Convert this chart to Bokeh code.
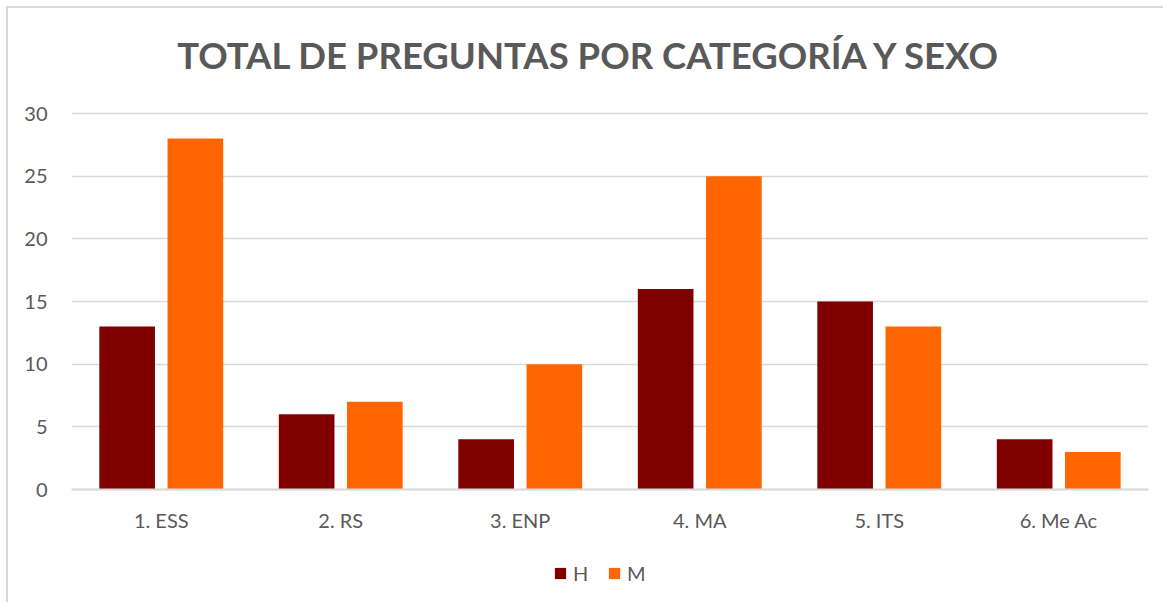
from bokeh.plotting import figure
from bokeh.models import (FactorRange, Range1d, Label, Legend, LegendItem,
                          FixedTicker, ColumnDataSource)
from bokeh.transform import dodge
from bokeh.embed import file_html
from bokeh.resources import INLINE

# ---- data ----
categories = ["1. ESS", "2. RS", "3. ENP", "4. MA", "5. ITS", "6. Me Ac"]
h_values = [13, 6, 4, 16, 15, 4]
m_values = [28, 7, 10, 25, 13, 3]
y_ticks = [0, 5, 10, 15, 20, 25, 30]
title_text = "TOTAL DE PREGUNTAS POR CATEGORÍA Y SEXO"

source = ColumnDataSource(data=dict(cat=categories, H=h_values, M=m_values))

FONT = "Lato"
GRAY = "#595959"
GRID = "#d9d9d9"

# frame spans the full canvas height; 0..30 sits at canvas px 481..105
PX_PER_UNIT = (481 - 105) / 30.0
Y_TOP = 30 + 105 / PX_PER_UNIT
Y_BOTTOM = -(596 - 481) / PX_PER_UNIT

p = figure(
    x_range=FactorRange(*categories, range_padding=0),
    y_range=Range1d(Y_BOTTOM, Y_TOP),
    width=1157, height=596,
    output_backend="svg", toolbar_location=None,
    min_border_left=63, min_border_right=17,
    min_border_top=0, min_border_bottom=0,
)
p.outline_line_color = None
p.styles = {"border-left": "2px solid #d9d9d9", "border-top": "2px solid #d9d9d9",
            "margin-left": "6px", "margin-top": "6px"}

r_h = p.vbar(x=dodge("cat", -0.19, range=p.x_range), top="H", width=0.31,
             source=source, fill_color="#800000", line_color=None)
r_m = p.vbar(x=dodge("cat", 0.19, range=p.x_range), top="M", width=0.31,
             source=source, fill_color="#FF6600", line_color=None)

# axes
p.xgrid.visible = False
p.ygrid.grid_line_color = GRID
p.ygrid.grid_line_width = 1.5

p.yaxis.ticker = FixedTicker(ticks=y_ticks)
p.yaxis.axis_line_color = None
p.yaxis.major_tick_line_color = None
p.yaxis.minor_tick_line_color = None
p.yaxis.major_label_text_font = FONT
p.yaxis.major_label_text_font_size = "20px"
p.yaxis.major_label_text_color = GRAY
p.yaxis.major_label_standoff = 18

p.xaxis.fixed_location = 0
p.xaxis.axis_line_color = GRID
p.xaxis.axis_line_width = 2
p.xaxis.major_tick_line_color = None
p.xaxis.minor_tick_line_color = None
p.xaxis.major_label_text_font = FONT
p.xaxis.major_label_text_font_size = "20px"
p.xaxis.major_label_text_color = GRAY
p.xaxis.major_label_standoff = 12

# title
p.add_layout(Label(x=2.89, y=30 + (105 - 46) / PX_PER_UNIT, text=title_text,
                   text_align="center", text_baseline="middle", text_font=FONT,
                   text_font_size="36.5px", text_font_style="bold",
                   text_color=GRAY))

legend = Legend(items=[LegendItem(label="H", renderers=[r_h]),
                       LegendItem(label="M", renderers=[r_m])],
                orientation="horizontal", location=(482, 19),
                glyph_width=14, glyph_height=14, label_standoff=6, spacing=14,
                label_text_font=FONT, label_text_font_size="20px",
                label_text_color=GRAY, border_line_color=None,
                background_fill_alpha=0, margin=0, padding=6)
p.add_layout(legend, "center")

open("out.html", "w").write(file_html(p, INLINE))
